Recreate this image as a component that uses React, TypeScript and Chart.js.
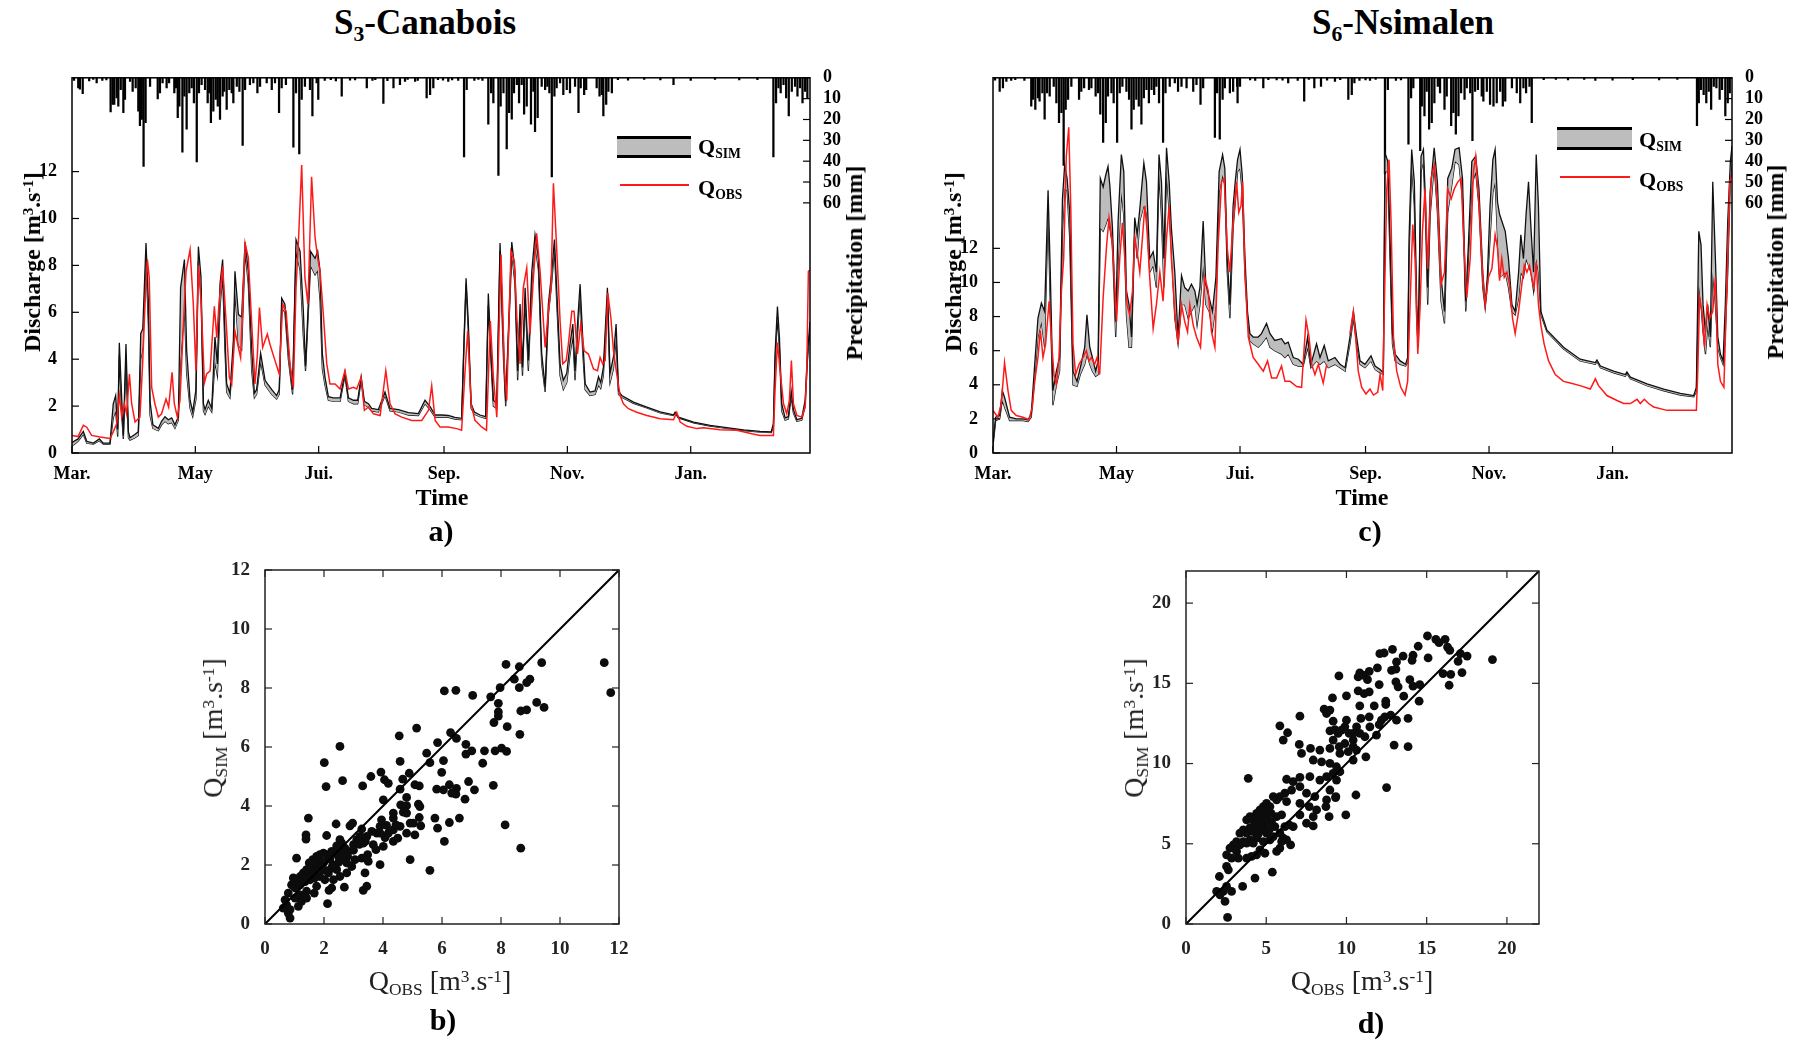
import React, { useEffect, useRef } from 'react';
import { Chart, registerables } from 'chart.js';

Chart.register(...registerables);

const FONT = "'Liberation Serif', 'Times New Roman', Times, serif";

// ---------- axis ticks / labels ----------
const monthDays = [0, 61, 122, 184, 245, 306];
const monthLabels = ['Mar.', 'May', 'Jui.', 'Sep.', 'Nov.', 'Jan.'];
const dischargeTicks = [0, 2, 4, 6, 8, 10, 12];
const rainTicks = [0, 10, 20, 30, 40, 50, 60];
const scatterTicksB = [0, 2, 4, 6, 8, 10, 12];
const scatterTicksD = [0, 5, 10, 15, 20];
const lineB = [0, 12];
const lineD = [0, 22];

// ---------- S3-Canabois (panel a) ----------
const simDaysA = [
  0, 3, 5.6, 7.3, 10.6, 13.5, 15.5, 18.8, 20.4, 21.6,
  22.6, 23.4, 24.6, 25.4, 26.7, 27.9, 28.7, 31.2, 32.8, 34,
  35, 36.6, 37.8, 38.6, 40, 42.7, 44.3, 46, 47.6, 49.3,
  50.9, 52.6, 53.7, 55.6, 56.7, 58.4, 59.7, 61.3, 62.5, 63.8,
  65, 65.8, 67.4, 69.1, 70.7, 71.9, 73.2, 74.5, 75.7, 76.5,
  78.1, 79.8, 80.6, 82.3, 83.9, 85.6, 87.2, 88.9, 90.2, 91.3,
  93.3, 95.5, 97.1, 98.8, 101.2, 102.5, 103.7, 105.3, 107, 109.1,
  110.8, 112.8, 114.4, 115.5, 118, 120.2, 121.5, 122.7, 123.8, 125.1,
  126.8, 129.3, 132.6, 135, 136.7, 139.2, 141.3, 143, 144.6, 146.6,
  148.2, 151.5, 154.8, 157.3, 161.4, 166.4, 171.3, 174.6, 177.1, 179.6,
  182.9, 186.1, 189.4, 192.7, 193.9, 194.9, 196, 197.4, 199, 201.8,
  204.6, 205.9, 207.3, 208.4, 210.1, 211.7, 213.4, 214.5, 217.5, 219.1,
  220.4, 221.6, 222.8, 224.1, 225.7, 227.4, 229, 230.7, 232.3, 234,
  235.6, 237.3, 238.6, 239.7, 241.4, 243, 244.7, 246.3, 247.7, 248.8,
  250, 251.3, 252.6, 253.8, 256.2, 258.7, 260.4, 261.5, 262.8, 264.8,
  266.1, 267.8, 269.1, 270.3, 271.9, 277.7, 284.3, 290.9, 297.5, 298.3,
  299.9, 307.4, 315.6, 323.8, 332.1, 340.3, 345.8, 346.9, 347.7, 348.9,
  349.9, 351, 352.7, 354.3, 355.7, 356.8, 358.5, 360.9, 362.6, 363.7,
  365,
];
const simHiA = [
  0.45, 0.6, 0.92, 0.5, 0.42, 0.6, 0.42, 0.42, 2.1, 2.45,
  1.0, 4.7, 2.3, 0.75, 4.65, 0.9, 0.65, 0.8, 0.9, 5.1,
  5.3, 8.95, 6.4, 2.2, 1.2, 1.05, 1.35, 1.55, 1.42, 1.5,
  1.2, 1.55, 7.05, 8.25, 4.4, 2.25, 1.75, 2.7, 8.8, 7.5,
  2.1, 1.85, 2.25, 1.9, 4.95, 3.8, 7.2, 8.25, 4.95, 2.95,
  2.55, 4.8, 7.75, 5.9, 5.8, 9.0, 7.75, 4.4, 2.55, 2.7,
  4.25, 3.1, 2.9, 2.7, 2.45, 2.7, 6.6, 6.35, 4.4, 2.7,
  9.1, 8.6, 6.1, 3.7, 8.6, 8.3, 8.6, 7.75, 4.25, 3.25,
  2.4, 2.35, 2.35, 3.45, 2.35, 2.25, 2.25, 3.25, 2.2, 2.1,
  1.9, 1.85, 2.6, 1.9, 1.85, 1.72, 1.68, 2.25, 1.98, 1.62,
  1.62, 1.6, 1.52, 1.48, 4.9, 7.45, 5.6, 2.1, 1.75, 1.62,
  1.55, 6.8, 4.2, 2.25, 2.1, 8.95, 4.65, 2.2, 9.0, 7.75,
  3.5, 6.35, 3.65, 7.05, 3.95, 7.75, 9.3, 8.3, 4.25, 2.8,
  6.35, 7.75, 9.1, 7.05, 3.8, 3.1, 3.4, 4.65, 5.5, 3.5,
  5.5, 7.2, 4.9, 2.95, 2.6, 2.65, 3.25, 3.0, 3.65, 7.05,
  3.4, 4.1, 5.5, 2.65, 2.45, 2.17, 1.96, 1.75, 1.63, 1.74,
  1.53, 1.32, 1.18, 1.08, 0.99, 0.92, 0.9, 1.25, 4.2, 6.25,
  4.9, 2.1, 1.5, 1.55, 2.65, 1.85, 1.42, 1.48, 2.25, 4.2,
  5.6,
];
const simLoA = [
  0.3, 0.5, 0.8, 0.42, 0.38, 0.52, 0.38, 0.38, 1.5, 1.8,
  0.7, 4.2, 1.6, 0.6, 4.0, 0.65, 0.55, 0.65, 0.75, 4.0,
  4.5, 8.3, 5.4, 1.6, 1.05, 0.95, 1.2, 1.35, 1.25, 1.3,
  1.05, 1.4, 4.0, 6.2, 3.4, 1.9, 1.55, 2.3, 8.2, 6.8,
  1.8, 1.65, 2.0, 1.75, 3.9, 3.3, 6.2, 7.6, 4.3, 2.6,
  2.35, 4.2, 7.0, 4.6, 4.4, 8.6, 7.2, 3.5, 2.35, 2.5,
  3.9, 2.9, 2.7, 2.5, 2.3, 2.5, 6.2, 6.0, 4.0, 2.5,
  8.6, 7.8, 5.0, 3.5, 8.0, 7.6, 7.8, 6.5, 3.6, 2.9,
  2.25, 2.2, 2.2, 3.3, 2.2, 2.1, 2.1, 3.1, 2.05, 1.95,
  1.8, 1.75, 2.45, 1.8, 1.75, 1.62, 1.6, 2.1, 1.85, 1.52,
  1.52, 1.52, 1.45, 1.42, 4.6, 7.2, 5.2, 1.9, 1.65, 1.55,
  1.48, 6.3, 3.8, 2.0, 1.9, 8.6, 4.0, 2.0, 8.5, 7.2,
  3.1, 5.8, 3.3, 6.6, 3.5, 7.2, 8.9, 7.8, 3.8, 2.6,
  5.9, 7.3, 8.7, 6.5, 3.3, 2.7, 3.0, 4.2, 5.0, 3.1,
  5.0, 6.8, 4.3, 2.7, 2.45, 2.5, 2.9, 2.75, 3.3, 6.6,
  3.0, 3.6, 4.9, 2.5, 2.38, 2.12, 1.92, 1.71, 1.6, 1.7,
  1.5, 1.29, 1.15, 1.05, 0.96, 0.89, 0.87, 1.1, 3.8, 5.8,
  4.4, 1.8, 1.4, 1.45, 2.4, 1.7, 1.35, 1.4, 2.0, 3.9,
  5.3,
];
const obsDaysA = [
  0, 3, 5.6, 7.3, 9.7, 13.9, 18.8, 20.4, 22.1, 23.4,
  24.6, 25.9, 27, 28.4, 29.5, 31.2, 33.6, 35, 36.1, 37.3,
  38.2, 39.4, 41, 42.7, 44.3, 46.5, 47.8, 49.5, 50.6, 52.1,
  53.4, 55.1, 56.4, 58.4, 60, 61.3, 62.5, 63.8, 65.5, 66.6,
  68.3, 70.4, 71.6, 72.7, 74.5, 76.2, 77.8, 79, 80.6, 82.3,
  83.4, 85.6, 87.2, 88.9, 90.5, 91.7, 92.7, 94.3, 96.6, 97.9,
  100.4, 102.5, 104.2, 105.9, 107.8, 109.5, 110.8, 112.1, 113.6, 115.2,
  116.7, 118.5, 120.2, 121.5, 122.7, 124.3, 126, 127.6, 130.1, 132.6,
  135, 136.7, 139.2, 140.8, 143, 144.6, 146.6, 149.1, 152.4, 155.2,
  157.3, 159.8, 163.1, 168, 173, 176.3, 177.9, 179.6, 182, 186.1,
  190.3, 192.7, 194.4, 195.7, 197.4, 199.3, 202.6, 205, 206.9, 208.4,
  210.1, 212.2, 213.9, 215, 217.1, 218.8, 220.1, 221.6, 223.2, 224.9,
  226.5, 228.2, 229.8, 231.5, 234, 235.6, 236.9, 238.1, 239.7, 241.4,
  242.7, 244.4, 245.5, 247.2, 248.3, 250, 251.6, 253.3, 255.4, 257.9,
  259.9, 261.2, 262.5, 263.7, 265, 266.5, 267.8, 269.4, 271.1, 272.7,
  275.2, 279.3, 284.3, 290.9, 297.5, 299.1, 300.8, 304.1, 309, 312.3,
  320.5, 328.8, 336.2, 340.3, 346.9, 347.7, 348.9, 350.2, 351.9, 353.5,
  354.8, 355.8, 356.8, 358.5, 360.9, 362.6, 363.4, 364.2, 365,
];
const obsA = [
  0.75, 0.7, 1.18, 1.1, 0.75, 0.68, 0.62, 0.9, 1.25, 2.45,
  1.53, 2.1, 1.67, 3.37, 2.1, 1.32, 1.53, 3.94, 6.34, 8.25,
  7.47, 2.8, 2.1, 1.53, 1.67, 2.3, 1.96, 3.44, 2.1, 1.53,
  2.24, 5.49, 7.75, 8.67, 6.34, 3.51, 8.0, 6.5, 3.0, 3.37,
  3.5, 6.26, 4.92, 6.34, 7.96, 5.63, 3.23, 2.94, 5.2, 4.5,
  4.07, 8.95, 8.32, 5.49, 2.94, 4.22, 6.2, 4.5, 5.07, 4.64,
  3.94, 3.37, 6.34, 6.05, 3.79, 2.8, 7.05, 9.23, 12.28, 7.47,
  6.34, 11.78, 9.2, 8.32, 7.75, 5.91, 3.8, 2.94, 2.94, 2.73,
  3.51, 2.73, 2.8, 2.73, 3.23, 1.82, 1.96, 1.67, 1.6, 3.51,
  2.1, 1.67, 1.53, 1.39, 1.39, 1.82, 2.87, 1.39, 1.11, 1.11,
  1.04, 0.97, 3.51, 5.2, 2.1, 1.39, 1.11, 0.97, 5.63, 3.23,
  1.53, 8.46, 3.51, 2.24, 8.6, 8.18, 5.63, 3.8, 7.05, 7.89,
  5.06, 7.47, 9.37, 7.75, 4.5, 6.05, 7.05, 11.5, 8.74, 5.63,
  3.8, 3.94, 4.64, 6.05, 6.05, 4.22, 5.49, 4.36, 4.22, 3.58,
  3.51, 4.07, 3.8, 3.94, 6.83, 5.77, 4.36, 3.37, 2.45, 2.1,
  1.89, 1.74, 1.6, 1.46, 1.42, 1.74, 1.32, 1.14, 1.04, 1.08,
  0.99, 0.97, 0.82, 0.75, 0.75, 2.66, 4.71, 3.51, 2.1, 1.67,
  2.24, 3.94, 2.1, 1.6, 1.53, 1.96, 3.51, 7.75, 7.8,
];
const rainDaysA = [
  3.1, 3.9, 5.3, 12.2, 19.1, 20.1, 20.9, 22.1, 22.9, 24.1,
  25.4, 26.2, 28.7, 30, 31.5, 32.8, 33.6, 34.5, 35.4, 36.4,
  38.6, 42.4, 43.5, 44.8, 46.8, 48, 50.6, 51.4, 52.3, 53.1,
  54.6, 55.6, 56.7, 58, 59.2, 60.3, 61.7, 62.8, 64.1, 65.8,
  67.1, 67.9, 68.7, 69.9, 71.1, 72.1, 73.2, 74.5, 75.3, 76.5,
  77.8, 79, 79.8, 81.5, 82.8, 84.4, 85.6, 88, 89.7, 91.7,
  93, 96.3, 98.8, 100.4, 102.4, 103.7, 105.8, 109.5, 110.8, 112.4,
  113.6, 115.2, 117.7, 118.9, 121, 121.8, 133.4, 140, 145.8, 148.6,
  154, 159, 162.2, 164.7, 169.7, 175.4, 177.1, 178.7, 186.1, 193.9,
  195.2, 199, 205.9, 207.3, 208.4, 210.9, 212, 213.4, 215, 216.2,
  217.5, 218.6, 220, 221.1, 222.4, 223.6, 224.9, 227, 228.2, 229,
  230.3, 232.3, 234, 235.1, 236.1, 237.3, 238.6, 239.7, 241.4, 243,
  244.7, 246.3, 248.8, 250.5, 251.6, 253.3, 254.3, 259.5, 260.9, 262,
  262.8, 264.2, 265.3, 267, 297.5, 346.9, 348.2, 349.4, 350.5, 351.9,
  353.2, 354.5, 356, 357.6, 358.8, 360.1, 361.3, 362.6, 363.7,
  1, 8.5, 10.5, 15, 17, 125, 128, 130.5, 137.5, 150,
  156, 166, 171, 181, 183.5, 188, 191, 201, 203, 270,
  275, 283, 291, 306, 318, 330, 339,
];
const rainA = [
  4.9, 5.4, 7.6, 2.5, 16.4, 12.8, 12.8, 9.6, 13.6, 5.7,
  16.7, 10.4, 1.7, 6.5, 4.9, 16, 23, 20, 42.5, 21.5,
  4.1, 10.1, 7.3, 2.5, 4.9, 2.5, 7.3, 4.9, 19.1, 13.6,
  35.7, 8.8, 24.6, 7.3, 4.9, 12, 40.4, 7.3, 3.3, 5.7,
  12, 7.3, 21.5, 16, 10.4, 13.6, 20, 8.8, 6.5, 15.2,
  5.7, 7.3, 12, 4.1, 6.5, 32.5, 5.7, 3.3, 2.5, 7.3,
  4.1, 2.5, 5.7, 2.5, 16.7, 4.9, 3.3, 33.3, 7.3, 36.5,
  10.4, 4.1, 5.7, 18.3, 2.5, 10.4, 8.8, 1, 4.9, 1.3,
  12.3, 4.9, 3.3, 1.7, 1.7, 9.6, 8.1, 4.9, 1.7, 38,
  5.7, 1.3, 22.3, 7.3, 12, 46.8, 13.6, 7.3, 34.1, 16.7,
  19.9, 7.3, 3.3, 12, 3.3, 17.5, 13.6, 22.3, 6.5, 25.9,
  19.1, 4.1, 5.7, 4.1, 7.3, 47.6, 8.8, 4.9, 2.5, 8.1,
  5.7, 7.3, 4.1, 16.7, 4.9, 8.1, 5.7, 4.9, 8.8, 8.1,
  18.3, 12.8, 6.5, 7.3, 3.3, 38, 12, 4.9, 7.3, 3.3,
  9.6, 18.3, 6.5, 4.1, 8.8, 4.9, 12, 6.5, 9.6,
  1.2, 1.5, 0.8, 1.2, 1.0, 1.3, 0.9, 1.5, 1.1, 0.9,
  1.4, 0.8, 1.2, 0.9, 1.1, 1.0, 1.3, 0.8, 1.2, 0.9,
  1.1, 0.8, 1.0, 1.2, 0.8, 1.0, 0.9,
];

// ---------- S6-Nsimalen (panel c) ----------
const simDaysC = [
  0, 1.3, 3.3, 4.6, 5.7, 8.2, 11.5, 14.8, 17.3, 18.9,
  20.6, 22.2, 23.9, 25.5, 27.2, 28.3, 29.6, 31.3, 32.9, 34.3,
  35.4, 36.6, 37.9, 39.5, 41.5, 43.1, 45.3, 46.4, 47.8, 49.1,
  50.7, 51.9, 53, 54.4, 55.7, 56.8, 57.7, 59, 60.6, 61.8,
  63.4, 64.6, 65.9, 67.2, 68.4, 70, 71.2, 72.5, 74.5, 75.8,
  77.4, 79.1, 80.7, 82, 83.2, 84.4, 85.7, 87, 88.1, 89.8,
  91.4, 93.1, 94.7, 96.4, 98, 99.7, 100.8, 102.2, 103.8, 105.1,
  106.8, 108.4, 110.1, 111.7, 113.4, 114.5, 115.7, 117, 118.6, 119.8,
  120.8, 122, 123.1, 124.4, 125.7, 126.9, 128.5, 131, 132.6, 135.1,
  136.8, 139.2, 142.5, 144.2, 145.8, 148.3, 150.8, 153.2, 155.4, 157,
  159.8, 161.5, 163.6, 165.6, 168.9, 171.4, 173.9, 176.3, 178, 179.6,
  181.3, 183.7, 186.7, 188.7, 191.2, 192.8, 193.6, 195, 196.1, 197.3,
  198.6, 201.1, 203.8, 204.8, 205.5, 206.8, 208.1, 209.3, 210.1, 211.4,
  212.6, 213.7, 214.7, 215.9, 217.9, 219.5, 221.3, 223, 224.6, 226.6,
  228.2, 230.2, 231.9, 233.5, 234.8, 236.5, 238.4, 240, 241.9, 243.1,
  244.2, 245.5, 246.9, 248, 249.2, 250.2, 251.3, 253, 254.6, 256.3,
  257.9, 259.6, 260.7, 262, 263.3, 264.5, 265.7, 267, 268.3, 269.4,
  270.6, 273.6, 281.8, 290, 297.5, 298.3, 300, 306.5, 312.3, 313.1,
  314.8, 323, 331.3, 339.5, 346.1, 347.4, 348.6, 349.7, 350.7, 351.9,
  353, 354.3, 355.5, 356.8, 358, 359.3, 360.6, 361.7, 362.9, 364.2,
  365,
];
const simHiC = [
  0.6, 2.1, 2.2, 3.66, 3.27, 2.1, 2.0, 2.0, 1.95, 2.3,
  5.2, 7.9, 8.8, 8.3, 15.4, 10.6, 3.66, 4.8, 5.6, 14.9,
  16.9, 16.1, 14.1, 4.8, 4.2, 5.0, 6.2, 8.1, 6.2, 5.6,
  4.8, 5.4, 16.1, 15.6, 16.3, 16.8, 15.7, 13.2, 7.7, 13.6,
  17.5, 16.5, 9.5, 8.7, 6.8, 13.8, 12.8, 14.3, 17.0, 15.9,
  11.4, 11.8, 10.6, 17.5, 15.9, 11.4, 17.9, 15.9, 13.2, 10.6,
  6.8, 10.4, 9.7, 9.5, 9.9, 9.5, 8.7, 9.7, 13.6, 9.9,
  9.1, 8.3, 10.3, 16.5, 17.5, 16.7, 11.4, 8.7, 14.5, 16.1,
  17.2, 17.8, 16.3, 11.6, 8.3, 7.0, 6.8, 6.8, 7.0, 7.6,
  7.0, 6.6, 6.7, 6.4, 6.5, 5.6, 5.5, 5.2, 6.8, 5.2,
  6.4, 5.6, 6.3, 5.4, 5.6, 5.2, 5.0, 6.8, 8.3, 6.8,
  5.4, 5.2, 5.7, 5.1, 4.9, 4.7, 17.6, 17.1, 12.6, 7.0,
  5.8, 5.4, 5.2, 5.6, 12.6, 17.8, 15.9, 8.7, 6.8, 17.4,
  17.8, 14.5, 9.7, 15.3, 17.9, 15.9, 10.3, 8.3, 16.1, 16.7,
  17.8, 17.9, 16.1, 8.9, 12.2, 17.1, 17.4, 15.5, 10.6, 8.7,
  10.4, 14.5, 17.2, 17.8, 14.7, 14.0, 13.6, 13.0, 11.4, 8.7,
  8.3, 10.6, 12.8, 11.4, 14.0, 15.9, 13.2, 10.6, 17.5, 14.5,
  8.3, 7.2, 6.2, 5.5, 5.3, 5.45, 5.1, 4.8, 4.6, 4.75,
  4.45, 4.05, 3.75, 3.5, 3.37, 3.85, 13.0, 12.2, 8.7, 7.1,
  8.7, 6.8, 15.9, 11.4, 6.8, 5.8, 5.4, 8.7, 13.6, 17.1,
  18.0,
];
const simLoC = [
  0.4, 1.9, 2.0, 3.1, 2.7, 1.9, 1.9, 1.9, 1.85, 2.1,
  4.4, 6.8, 7.7, 6.2, 14.1, 8.7, 2.8, 4.0, 4.8, 13.0,
  15.5, 15.4, 12.6, 4.0, 3.9, 4.6, 5.2, 5.8, 5.2, 4.8,
  4.5, 4.6, 13.2, 13.0, 13.4, 13.8, 13.2, 12.2, 6.8, 11.2,
  15.3, 13.9, 8.1, 6.2, 6.2, 13.0, 11.4, 13.6, 14.5, 14.1,
  10.6, 11.0, 9.7, 16.5, 13.9, 9.7, 16.5, 14.1, 12.0, 7.9,
  6.4, 8.7, 8.7, 7.9, 8.3, 8.7, 7.5, 8.7, 11.0, 8.7,
  8.3, 7.2, 8.7, 15.3, 16.3, 15.7, 10.6, 7.9, 13.2, 14.9,
  16.5, 16.7, 15.3, 10.6, 7.9, 6.6, 6.4, 6.2, 6.4, 6.8,
  6.2, 6.0, 5.8, 5.6, 5.8, 5.2, 5.1, 5.1, 6.2, 5.0,
  5.4, 5.2, 5.4, 5.0, 5.2, 5.0, 4.8, 6.4, 7.9, 6.4,
  5.2, 5.0, 5.4, 4.9, 4.7, 4.6, 16.5, 16.5, 11.4, 6.4,
  5.4, 5.2, 5.1, 5.3, 11.4, 16.9, 14.5, 7.5, 6.2, 16.5,
  17.1, 13.4, 8.7, 13.9, 16.9, 14.1, 8.9, 7.6, 14.1, 15.7,
  17.1, 16.9, 14.9, 8.3, 11.4, 15.7, 16.5, 14.5, 9.7, 8.5,
  9.9, 12.6, 15.3, 15.9, 12.6, 10.3, 10.4, 10.6, 9.7, 8.3,
  8.1, 9.1, 10.6, 10.3, 11.4, 11.0, 10.6, 9.5, 11.4, 10.6,
  8.1, 7.1, 6.1, 5.4, 5.2, 5.35, 5.0, 4.7, 4.5, 4.65,
  4.35, 3.95, 3.65, 3.4, 3.3, 3.6, 9.9, 8.7, 7.1, 5.8,
  7.5, 6.2, 10.6, 8.7, 6.2, 5.6, 5.2, 7.1, 10.6, 16.1,
  17.0,
];
const obsDaysC = [
  0, 2.4, 4.1, 5.7, 7.4, 9, 11.5, 14.8, 17.8, 19.4,
  20.6, 22.2, 23.4, 24.7, 26, 27.7, 28.8, 30.1, 31.3, 32.6,
  33.8, 34.9, 36.2, 37.4, 38.4, 39.5, 40.8, 42.5, 44.5, 46.1,
  47.4, 48.6, 50.2, 51.4, 52.7, 54.4, 56, 57.3, 58.5, 59.6,
  61, 62.6, 63.9, 65.1, 66.2, 67.5, 68.9, 70, 71.2, 72.5,
  73.8, 75, 76.1, 77.4, 79.1, 80.7, 82.4, 84, 85.7, 87,
  88.1, 89.8, 91.4, 93.1, 94.7, 96.1, 97.2, 98.9, 100.5, 102.5,
  104.6, 106.3, 107.9, 109.6, 111.2, 112.9, 114.2, 115.7, 117, 118.6,
  120.3, 121.4, 122.5, 123.3, 124.4, 126.1, 128.5, 131, 133.5, 135.6,
  137.6, 140.1, 142.5, 144.2, 146.7, 150, 152.4, 154.6, 156.1, 157.4,
  159, 160.7, 163.1, 164.8, 170, 176.3, 178, 179.1, 180.4, 182.1,
  184.2, 186.2, 187.9, 190, 191.2, 192.5, 193.3, 194.5, 195.6, 196.6,
  197.8, 199.4, 201.4, 203.5, 204.8, 206, 207.3, 208.5, 209.8, 211,
  212.1, 213.4, 214.7, 216.4, 218, 219.7, 221.3, 223, 224.6, 226.3,
  227.9, 229.6, 231.2, 232.9, 234, 235.7, 237.3, 238.4, 240.1, 241.9,
  243.1, 244.7, 246.4, 248, 249.2, 250.2, 251.3, 252.5, 253.8, 255.1,
  256.6, 257.9, 259.6, 261.2, 262.4, 263.7, 265, 266.1, 267.3, 268.3,
  269.4, 270.6, 272.2, 274.4, 277.7, 281.8, 285.1, 290, 295, 297.5,
  299.1, 303.2, 308.2, 311.5, 314.8, 318.1, 319.7, 321.7, 323.8, 326.3,
  332.9, 339.5, 347.4, 348.1, 349, 350.2, 351.4, 352.7, 354, 355.5,
  356.8, 358, 359.3, 361, 362.2, 363.9, 365,
];
const obsC = [
  2.5, 2.1, 2.9, 5.3, 3.66, 2.5, 2.2, 2.1, 1.95, 2.7,
  4.2, 5.6, 7.2, 5.6, 6.4, 8.9, 6.8, 4.6, 4.0, 5.6,
  9.5, 11.4, 17.4, 19.1, 14.5, 6.4, 4.6, 5.2, 5.6, 6.0,
  5.4, 5.6, 5.2, 5.6, 4.6, 9.1, 12.0, 13.8, 12.8, 11.0,
  7.7, 11.4, 13.5, 11.4, 8.7, 8.1, 9.5, 12.6, 11.8, 10.6,
  12.6, 14.5, 13.0, 10.3, 7.3, 8.7, 10.6, 8.9, 12.6, 14.5,
  11.4, 8.3, 6.4, 8.7, 7.7, 7.1, 8.7, 7.5, 6.8, 6.2,
  10.3, 9.5, 7.1, 6.2, 12.2, 15.9, 16.1, 12.0, 10.6, 13.6,
  15.9, 14.1, 14.5, 15.9, 10.6, 6.8, 5.6, 5.2, 4.8, 5.4,
  4.4, 4.4, 5.1, 4.2, 4.2, 3.9, 3.85, 7.8, 6.8, 5.2,
  4.6, 5.2, 4.1, 5.2, null, 7.0, 8.3, 6.8, 4.8, 3.85,
  3.46, 3.75, 3.4, 3.56, 4.6, 3.66, 8.7, 15.5, 17.2, 13.6,
  6.8, 4.8, 3.85, 3.4, 4.2, 8.7, 13.4, 11.4, 5.8, 8.7,
  13.0, 15.5, 10.8, 16.1, 16.9, 14.5, 9.9, 10.6, 15.5, 14.9,
  15.5, 15.9, 16.1, 11.4, 9.1, 11.4, 16.5, 17.4, 14.5, 10.3,
  8.7, 10.3, 10.8, 12.8, 12.0, 10.1, 11.4, 10.3, 10.6, 9.9,
  7.9, 7.0, 8.3, 9.9, 11.0, 10.6, 11.0, 10.3, 9.7, 11.2,
  8.7, 7.5, 6.4, 5.4, 4.6, 4.2, 4.1, 3.95, 3.75, 4.35,
  3.95, 3.37, 3.08, 2.9, 2.9, 3.15, 2.9, 3.15, 2.9, 2.7,
  2.5, 2.5, 2.5, 4.8, 9.1, 8.3, 6.2, 8.7, 7.9, 8.3,
  10.3, 5.2, 4.2, 3.85, 8.7, 15.9, 16.4,
];
const rainDaysC = [
  3.3, 4.9, 6.6, 18.9, 19.7, 20.9, 22.2, 23, 24.4, 25.5,
  26.7, 28, 30, 31.3, 32.6, 33.8, 34.9, 35.9, 37.1, 38.7,
  42.5, 43.6, 45, 47.4, 48.6, 50.7, 51.9, 53, 54.4, 55.7,
  56.8, 58.5, 59.6, 61.3, 62.6, 63.9, 65.9, 67.2, 68.4, 69.5,
  70.8, 72, 73.3, 74.5, 75.8, 77, 78.3, 79.6, 80.7, 82,
  84, 85.2, 87.3, 89.8, 91.4, 93.1, 95.6, 98.9, 100.5, 102.5,
  103.8, 109.6, 110.7, 112, 113.4, 114.5, 117, 118.6, 120.6, 120.8,
  122, 133.5, 140.1, 145.8, 153.7, 158.7, 162, 168.9, 175.5, 177.2,
  178.5, 186.2, 193.6, 195, 205.2, 206.5, 207.6, 211, 211.8, 213.1,
  214.2, 215.4, 216.7, 218, 219.7, 220.8, 223, 224.1, 226.3, 227.4,
  228.6, 229.9, 231.2, 232.9, 234, 235.7, 236.8, 238.1, 239.5, 241.4,
  242.2, 243.9, 245.5, 247.2, 248.8, 250.5, 251.8, 253, 256.3, 258.7,
  260.4, 262, 263.3, 265, 266.1, 297.5, 347.7, 348.6, 349.7, 351,
  352.3, 353.5, 354.7, 356, 357.3, 358.9, 360.1, 361.7, 362.9, 363.9,
  1, 9, 11, 15.5, 127, 129.5, 136, 143, 150.5, 156,
  165, 171.5, 181, 184, 189, 199, 201.5, 272, 278, 284,
  292, 306, 316, 329, 338,
];
const rainC = [
  6.5, 4.9, 1.7, 13.6, 10.4, 15.2, 9.6, 11.2, 7.3, 19.9,
  7.3, 8.8, 4.1, 12, 21.5, 16.7, 42, 15.2, 10.4, 4.1,
  10.4, 6.5, 4.9, 5.7, 4.9, 8.8, 7.3, 17.5, 31, 21.5,
  8.8, 7.3, 12, 31, 7.3, 4.1, 6.5, 10.4, 24.6, 15.2,
  10.4, 13.6, 22.3, 9.6, 5.7, 12, 5.7, 8.1, 4.1, 12,
  31, 7.3, 4.1, 2.5, 6.5, 4.1, 4.9, 6.5, 3.3, 12.8,
  4.9, 28.6, 7.3, 29.4, 10.4, 4.9, 7.3, 6.5, 4.1, 12,
  4.1, 4.9, 1, 2.5, 11.2, 4.9, 4.1, 1.7, 10.4, 8.1,
  2.5, 1.3, 46, 5.7, 31.8, 9.6, 4.9, 34.9, 13.6, 18.3,
  6.5, 24.6, 21.5, 12, 4.1, 7.3, 15.2, 8.8, 23, 16.7,
  27, 18.3, 7.3, 10.4, 4.9, 7.3, 30.2, 6.5, 5.7, 8.8,
  11.2, 6.5, 12.8, 13.6, 12, 6.5, 13.6, 11.2, 4.9, 7.3,
  12, 4.9, 7.3, 4.1, 21.5, 1.3, 23, 12, 5.7, 8.1,
  12, 6.5, 15.2, 4.1, 4.9, 10.4, 5.7, 18.3, 12, 7.3,
  1.1, 1.3, 0.9, 1.2, 1.0, 1.3, 0.9, 1.1, 1.2, 0.8,
  1.1, 0.9, 1.2, 1.0, 0.8, 1.2, 1.0, 0.9, 0.8, 1.0,
  0.8, 1.1, 0.9, 1.0, 0.8,
];

// ---------- Scatter b (S3) ----------
const obsB = [
  11.5, 11.72, 9.38, 8.17, 8.62, 8.45, 8.98, 8.87, 7.97, 8.62,
  6.08, 6.47, 7.04, 7.65, 7.91, 7.91, 7.91, 9.21, 9.46, 8.67,
  8.87, 7.76, 8.21, 8.64, 6.29, 6.49, 6.81, 7.01, 7.44, 7.8,
  8.02, 8.19, 6.81, 5.85, 5.14, 4.55, 2.54, 2.01, 2.07, 2.63,
  3.31, 3.59, 3.93, 4.05, 4.18, 4.58, 4.67, 4.89, 5.08, 5.23,
  5.48, 5.59, 6.05, 5.99, 6.05, 5.82, 6.25, 6.49, 6.33, 6.47,
  6.9, 7.1, 7.38, 7.74, 6.78, 4.58, 4.8, 4.6, 4.8, 4.69,
  4.01, 5.2, 5.23, 5.28, 4.92, 4.58, 4.5, 4.12, 4.35, 3.9,
  3.62, 3.28, 2.88, 2.97, 2.41, 1.47, 1.39, 1.39, 2.09, 2.43,
  2.6, 2.82, 3.11, 3.45, 3.79, 4.07, 4.35, 4.8, 5.08, 3.67,
  3.33, 4.01, 3.76, 3.48, 3.28, 3.5, 3.9, 4.92, 5.59, 6.08,
  6.59, 6.25, 5.76, 5.85, 8.14, 8.67, 3.39, 3.33, 3.45, 2.69,
  2.12, 2.17, 2.26, 1.67, 1.07, 1.5, 1.62, 1.75, 1.86, 1.98,
  2.09, 2.26, 2.37, 2.49, 2.66, 2.77, 2.94, 3.05, 2.43, 2.26,
  2.15, 1.98, 1.86, 1.64, 1.53, 1.41, 1.3, 1.19, 1.07, 0.96,
  0.9, 1.02, 1.19, 1.36, 1.53, 1.69, 1.86, 2.03, 2.32, 2.54,
  2.77, 1.75, 1.41, 1.19, 1.02, 0.79, 0.68, 0.73, 0.62, 0.85,
  0.85, 1.13, 1.24, 1.41, 0.79, 4.35, 4.44, 3.95, 3.9, 4.18,
  5.03, 4.8, 5.25, 4.35, 3.22, 2.54, 2.71, 3.0,
  1.6, 1.8, 2.0, 2.2, 1.7, 1.9, 2.1, 2.3, 1.4, 2.5,
  2.6, 2.8, 3.0, 3.2, 3.4,
];
const simB = [
  8.86, 7.84, 8.86, 8.8, 8.72, 8.3, 8.3, 8.18, 8.01, 8.01,
  7.9, 7.92, 7.75, 7.7, 7.48, 7.19, 7.05, 7.51, 7.34, 7.22,
  7.26, 6.83, 6.69, 6.43, 6.49, 6.29, 6.09, 5.87, 5.87, 5.87,
  5.96, 5.85, 5.76, 6.15, 6.64, 6.38, 6.02, 5.47, 4.66, 4.86,
  4.68, 5.0, 5.15, 4.89, 4.77, 5.51, 4.91, 5.11, 4.72, 4.68,
  5.79, 5.47, 5.54, 5.14, 4.55, 4.57, 4.72, 4.6, 4.44, 4.4,
  4.83, 4.55, 5.45, 4.7, 4.23, 4.57, 4.29, 4.04, 4.01, 3.79,
  4.21, 4.06, 3.61, 3.33, 3.42, 3.31, 2.91, 3.34, 3.19, 3.31,
  3.14, 3.22, 3.33, 3.42, 3.39, 3.59, 3.02, 2.88, 3.0, 2.65,
  2.74, 2.46, 2.86, 2.97, 3.08, 2.93, 2.8, 3.08, 3.02, 2.69,
  2.74, 2.63, 2.52, 2.35, 2.23, 2.12, 2.01, 2.18, 1.82, 2.8,
  3.59, 3.44, 3.59, 3.25, 3.36, 2.57, 1.73, 1.14, 1.28, 1.25,
  0.69, 1.14, 1.22, 1.05, 2.23, 2.07, 2.18, 2.29, 2.35, 2.4,
  2.35, 2.46, 2.4, 2.29, 2.18, 2.07, 1.95, 2.18, 1.84, 1.9,
  1.73, 1.84, 2.01, 1.9, 1.73, 1.84, 1.73, 1.61, 1.5, 1.56,
  1.33, 1.22, 1.33, 1.44, 1.5, 1.56, 1.61, 1.5, 1.5, 1.61,
  1.73, 1.28, 1.11, 0.99, 0.88, 1.05, 0.82, 0.65, 0.54, 0.49,
  0.2, 0.6, 0.77, 0.88, 0.37, 3.59, 3.36, 3.53, 3.08, 3.08,
  3.42, 3.76, 3.98, 3.76, 2.97, 2.86, 2.57, 2.69,
  2.1, 2.2, 2.1, 2.2, 1.7, 1.9, 1.8, 2.0, 1.6, 2.1,
  2.4, 2.3, 2.5, 2.7, 2.8,
];

// ---------- Scatter d (S6) ----------
const obsD = [
  19.1, 15.05, 15.57, 15.77, 16.15, 16.3, 16.44, 16.96, 17.1, 17.52,
  17.2, 16.5, 16.02, 16.4, 15.09, 14.47, 14.15, 14.09, 13.53, 12.87,
  12.35, 12.08, 13.12, 13.08, 12.81, 11.93, 11.42, 10.83, 10.73, 9.53,
  11.1, 11.31, 12.04, 13.08, 13.22, 13.95, 14.15, 14.57, 13.57, 14.53,
  10.73, 11.1, 11.42, 10.0, 9.13, 10.83, 11.73, 12.45, 12.45, 12.39,
  12.76, 13.12, 13.84, 12.18, 12.04, 11.42, 11.46, 10.9, 10.63, 10.42,
  10.0, 9.9, 9.69, 9.28, 8.97, 9.17, 8.76, 8.61, 8.97, 9.48,
  9.17, 10.17, 10.42, 10.83, 11.15, 11.87, 10.42, 9.9, 9.55, 10.11,
  9.59, 10.63, 10.42, 11.21, 12.97, 13.84, 12.5, 7.1, 5.85, 6.33,
  6.06, 7.06, 7.2, 7.76, 8.34, 8.97, 7.93, 8.45, 8.97, 9.38,
  9.59, 9.17, 8.76, 8.34, 7.72, 7.1, 6.68, 6.27, 3.88, 9.38,
  8.97, 8.76, 9.32, 8.03, 7.51, 7.1, 6.58, 6.16, 5.85, 5.65,
  6.27, 7.1, 7.68, 8.14, 8.72, 9.96, 10.59, 9.34, 7.93, 7.51,
  7.93, 7.1, 8.92, 5.02, 5.44, 5.23, 4.82, 4.61, 4.4, 3.99,
  3.78, 4.19, 4.61, 5.02, 5.33, 5.65, 5.96, 6.16, 6.43, 6.68,
  5.54, 4.82, 4.4, 3.99, 3.57, 3.36, 3.78, 4.19, 4.61, 5.02,
  5.44, 5.85, 6.06, 4.4, 3.99, 3.57, 3.15, 2.95, 3.36, 3.78,
  4.19, 4.82, 5.23, 4.61, 4.4, 4.92, 4.09, 3.78, 3.15, 2.74,
  2.53, 2.84, 3.26, 2.53, 2.64, 2.08, 4.3, 3.53, 5.38, 2.53,
  2.32, 1.91, 2.84, 2.43, 2.59, 2.12, 6.52, 6.27, 5.85, 5.65,
  5.96, 4.5, 4.7, 5.1, 4.3, 4.9, 5.3, 4.0, 4.5, 5.0,
  5.2,
];
const simD = [
  16.48, 17.95, 17.74, 17.53, 17.74, 17.26, 17.06, 16.37, 16.85, 16.7,
  15.67, 15.56, 15.61, 14.88, 16.58, 17.31, 16.75, 16.43, 16.7, 17.12,
  16.89, 16.85, 16.33, 15.88, 15.81, 15.96, 15.75, 15.65, 15.4, 15.46,
  15.5, 15.23, 14.92, 15.09, 14.78, 15.23, 14.82, 14.92, 14.2, 13.89,
  14.53, 14.36, 14.47, 14.22, 14.09, 13.6, 13.6, 13.89, 13.68, 12.91,
  13.02, 12.7, 12.81, 12.7, 12.43, 12.91, 12.29, 12.81, 12.29, 11.88,
  12.7, 12.29, 12.08, 12.12, 12.04, 12.64, 13.12, 13.39, 13.33, 11.88,
  11.46, 11.88, 11.46, 11.88, 11.67, 11.77, 11.05, 11.25, 11.05, 10.74,
  10.63, 10.84, 10.22, 10.42, 11.15, 11.05, 8.5, 12.95, 12.35, 11.92,
  11.46, 11.19, 10.63, 10.94, 10.84, 10.94, 10.22, 10.11, 10.01, 9.8,
  9.49, 9.39, 9.18, 8.97, 9.18, 9.14, 8.87, 9.02, 9.08, 8.97,
  8.35, 7.73, 7.88, 7.94, 8.15, 8.56, 8.35, 8.15, 7.94, 7.73,
  7.63, 7.52, 7.32, 7.11, 7.32, 6.8, 8.04, 7.94, 6.69, 6.28,
  6.11, 6.8, 6.69, 7.52, 7.94, 7.32, 7.32, 7.11, 6.9, 6.69,
  6.49, 6.49, 6.59, 6.69, 6.38, 6.69, 6.8, 6.07, 6.18, 6.07,
  6.07, 6.18, 6.07, 5.97, 5.87, 5.66, 5.66, 5.76, 5.87, 5.66,
  5.45, 5.66, 5.35, 5.35, 5.24, 5.14, 5.14, 4.93, 4.93, 5.04,
  5.04, 5.14, 5.24, 4.62, 4.31, 4.41, 4.21, 4.1, 4.52, 4.73,
  4.31, 4.1, 4.1, 3.59, 3.38, 2.96, 2.86, 2.34, 3.23, 2.34,
  2.03, 2.03, 2.03, 1.41, 0.41, 1.82, 4.93, 5.24, 4.73, 4.52,
  5.14, 6.3, 6.8, 7.0, 6.2, 6.0, 6.9, 6.0, 5.6, 6.4,
  5.9,
];

const pts = (xs: number[], ys: (number | null)[]) => xs.map((x, i) => ({ x, y: ys[i] }));

const framePlugin = {
  id: 'frame',
  afterDraw(chart: any, _args: any, opts: any) {
    const { ctx, chartArea: a } = chart;
    const L = opts.len ?? 7;
    const seg = (x1: number, y1: number, x2: number, y2: number) => {
      ctx.beginPath();
      ctx.moveTo(x1, y1);
      ctx.lineTo(x2, y2);
      ctx.stroke();
    };
    ctx.save();
    ctx.strokeStyle = opts.color || '#000';
    ctx.lineWidth = opts.width || 1.5;
    ctx.strokeRect(a.left, a.top, a.right - a.left, a.bottom - a.top);
    ctx.lineWidth = 1.2;
    const xs = chart.scales.x;
    xs.ticks.forEach((t: any) => {
      const p = xs.getPixelForValue(t.value);
      seg(p, a.bottom, p, a.bottom - L);
      if (opts.top) seg(p, a.top, p, a.top + L);
    });
    const ys = chart.scales.y;
    ys.ticks.forEach((t: any) => {
      const p = ys.getPixelForValue(t.value);
      seg(a.left, p, a.left + L, p);
      if (opts.right) seg(a.right, p, a.right - L, p);
    });
    const yp = chart.scales.yP;
    if (yp) {
      yp.ticks.forEach((t: any) => {
        const p = yp.getPixelForValue(t.value);
        seg(a.right, p, a.right - L, p);
      });
    }
    ctx.restore();
  },
};

type Area = { left: number; top: number; right: number; bottom: number };

function SeriesChart(props: any) {
  const { left, top, width, height, area, simDays, simHi, simLo, obsDays, obs, rainDays, rain, qMax } = props;
  const ref = useRef<HTMLCanvasElement | null>(null);
  useEffect(() => {
    const tickFont = { family: FONT, size: 18, weight: 'bold' as const };
    const a: Area = area;
    const chart = new Chart(ref.current as HTMLCanvasElement, {
      type: 'line',
      data: {
        datasets: [
          {
            type: 'line', data: pts(obsDays, obs), borderColor: '#ff1a1a', borderWidth: 1.5,
            pointRadius: 0, fill: false, spanGaps: false, order: 0, yAxisID: 'y', tension: 0,
          },
          {
            type: 'line', data: pts(simDays, simHi), borderColor: '#111', borderWidth: 1.3,
            pointRadius: 0, fill: '+1', backgroundColor: '#bdbdbd', order: 1, yAxisID: 'y',
          },
          {
            type: 'line', data: pts(simDays, simLo), borderColor: '#111', borderWidth: 1.3,
            pointRadius: 0, fill: false, order: 2, yAxisID: 'y',
          },
          {
            type: 'bar', data: pts(rainDays, rain), backgroundColor: '#000', barThickness: 1.6,
            order: 3, yAxisID: 'yP',
          },
        ] as any,
      },
      options: {
        responsive: false,
        animation: false,
        devicePixelRatio: 1,
        layout: { padding: { top: a.top, left: 0, right: 0, bottom: 0 } },
        plugins: { legend: { display: false }, tooltip: { enabled: false }, frame: { len: 7 } } as any,
        scales: {
          x: {
            type: 'linear', min: 0, max: 365, offset: false,
            grid: { display: false }, border: { display: false },
            afterBuildTicks: (s: any) => { s.ticks = monthDays.map((v) => ({ value: v })); },
            ticks: {
              font: tickFont, color: '#000', padding: 3, maxRotation: 0, autoSkip: false,
              callback: (v: any) => { const i = monthDays.indexOf(Number(v)); return i >= 0 ? monthLabels[i] : ''; },
            },
            afterFit: (s: any) => { s.height = height - a.bottom; },
          },
          y: {
            type: 'linear', position: 'left', min: 0, max: qMax,
            grid: { display: false }, border: { display: false },
            afterBuildTicks: (s: any) => { s.ticks = dischargeTicks.map((v) => ({ value: v })); },
            ticks: { font: tickFont, color: '#000', padding: 7 },
            afterFit: (s: any) => { s.width = a.left; },
          },
          yP: {
            type: 'linear', position: 'right', min: 0, max: 180, reverse: true,
            grid: { display: false }, border: { display: false },
            afterBuildTicks: (s: any) => { s.ticks = rainTicks.map((v) => ({ value: v })); },
            ticks: { font: tickFont, color: '#000', padding: 5 },
            afterFit: (s: any) => { s.width = width - a.right; },
          },
        } as any,
      },
      plugins: [framePlugin as any],
    });
    return () => chart.destroy();
  }, []);
  return <canvas ref={ref} width={width} height={height} style={{ position: 'absolute', left, top }} />;
}

function ScatterChart(props: any) {
  const { left, top, width, height, area, obs, sim, max, ticks, line } = props;
  const ref = useRef<HTMLCanvasElement | null>(null);
  useEffect(() => {
    const tickFont = { family: FONT, size: 19, weight: 'bold' as const };
    const a: Area = area;
    const chart = new Chart(ref.current as HTMLCanvasElement, {
      type: 'scatter',
      data: {
        datasets: [
          {
            type: 'line', data: pts(line, line), borderColor: '#000', borderWidth: 2,
            pointRadius: 0, fill: false, order: 0,
          },
          {
            type: 'scatter', data: pts(obs, sim), backgroundColor: '#0c0c0c', borderWidth: 0,
            pointRadius: 4.4, order: 1,
          },
        ] as any,
      },
      options: {
        responsive: false,
        animation: false,
        devicePixelRatio: 1,
        layout: { padding: { top: a.top, right: width - a.right, left: 0, bottom: 0 } },
        plugins: { legend: { display: false }, tooltip: { enabled: false }, frame: { len: 7, top: true, right: true, color: '#222' } } as any,
        scales: {
          x: {
            type: 'linear', min: 0, max,
            grid: { display: false }, border: { display: false },
            afterBuildTicks: (s: any) => { s.ticks = ticks.map((v: number) => ({ value: v })); },
            ticks: { font: tickFont, color: '#222', padding: 6, maxRotation: 0, autoSkip: false },
            afterFit: (s: any) => { s.height = height - a.bottom; },
          },
          y: {
            type: 'linear', min: 0, max,
            grid: { display: false }, border: { display: false },
            afterBuildTicks: (s: any) => { s.ticks = ticks.map((v: number) => ({ value: v })); },
            ticks: { font: tickFont, color: '#222', padding: 7 },
            afterFit: (s: any) => { s.width = a.left; },
          },
        } as any,
      },
      plugins: [framePlugin as any],
    });
    return () => chart.destroy();
  }, []);
  return <canvas ref={ref} width={width} height={height} style={{ position: 'absolute', left, top }} />;
}

function Txt(props: any) {
  const { x, y, size, bold = true, rot = false, anchor = 'center', color = '#000', children } = props;
  const tr = (anchor === 'center' ? 'translate(-50%,-50%)' : 'translate(0,-50%)') + (rot ? ' rotate(-90deg)' : '');
  return (
    <div
      style={{
        position: 'absolute', left: x, top: y, transform: tr, fontFamily: FONT, fontSize: size,
        fontWeight: bold ? 700 : 400, color, whiteSpace: 'nowrap', lineHeight: 1,
      }}
    >
      {children}
    </div>
  );
}
const Sub = ({ children }: any) => (
  <span style={{ fontSize: '0.62em', position: 'relative', top: '0.3em' }}>{children}</span>
);
const Sup = ({ children }: any) => (
  <span style={{ fontSize: '0.62em', position: 'relative', top: '-0.45em' }}>{children}</span>
);

function Legend({ boxLeft, boxTop, boxW, boxH, textX, simY, lineTop, obsY }: any) {
  return (
    <>
      <div
        style={{
          position: 'absolute', left: boxLeft, top: boxTop, width: boxW, height: boxH, boxSizing: 'border-box',
          background: '#bdbdbd', borderTop: '3px solid #000', borderBottom: '3px solid #000',
        }}
      />
      <Txt x={textX} y={simY} size={22} anchor="left">Q<Sub>SIM</Sub></Txt>
      <div style={{ position: 'absolute', left: boxLeft + 3, top: lineTop, width: boxW - 5, height: 2, background: '#ff1a1a' }} />
      <Txt x={textX} y={obsY} size={22} anchor="left">Q<Sub>OBS</Sub></Txt>
    </>
  );
}

export default function App() {
  return (
    <div style={{ position: 'absolute', left: 0, top: 0, width: 1798, height: 1041, background: '#fff', overflow: 'hidden' }}>
      {/* Titles */}
      <Txt x={425} y={22} size={35}>S<Sub>3</Sub>-Canabois</Txt>
      <Txt x={1403} y={22} size={35}>S<Sub>6</Sub>-Nsimalen</Txt>

      {/* Panel a */}
      <SeriesChart
        left={0} top={60} width={900} height={450}
        area={{ left: 72, top: 15, right: 810, bottom: 393 }}
        simDays={simDaysA} simHi={simHiA} simLo={simLoA}
        obsDays={obsDaysA} obs={obsA} rainDays={rainDaysA} rain={rainA} qMax={16}
      />
      <Txt x={32} y={262} size={24} rot>Discharge [m<Sup>3</Sup>.s<Sup>-1</Sup>]</Txt>
      <Txt x={854} y={263} size={24} rot>Precipitation [mm]</Txt>
      <Txt x={442} y={497} size={24}>Time</Txt>
      <Txt x={441} y={531} size={30}>a)</Txt>
      <Legend boxLeft={617} boxTop={136} boxW={74} boxH={22} textX={698} simY={147} lineTop={184} obsY={188} />

      {/* Panel c */}
      <SeriesChart
        left={900} top={60} width={898} height={450}
        area={{ left: 93, top: 15, right: 832, bottom: 393 }}
        simDays={simDaysC} simHi={simHiC} simLo={simLoC}
        obsDays={obsDaysC} obs={obsC} rainDays={rainDaysC} rain={rainC} qMax={22}
      />
      <Txt x={953} y={262} size={24} rot>Discharge [m<Sup>3</Sup>.s<Sup>-1</Sup>]</Txt>
      <Txt x={1775} y={262} size={24} rot>Precipitation [mm]</Txt>
      <Txt x={1362} y={497} size={24}>Time</Txt>
      <Txt x={1370} y={531} size={30}>c)</Txt>
      <Legend boxLeft={1557} boxTop={127} boxW={75} boxH={23} textX={1639} simY={140} lineTop={176} obsY={180} />

      {/* Panel b */}
      <ScatterChart
        left={180} top={540} width={480} height={440}
        area={{ left: 85, top: 30, right: 439, bottom: 384 }}
        obs={obsB} sim={simB} max={12} ticks={scatterTicksB} line={lineB}
      />
      <Txt x={213} y={728} size={28} bold={false} rot color="#222">Q<Sub>SIM</Sub> [m<Sup>3</Sup>.s<Sup>-1</Sup>]</Txt>
      <Txt x={440} y={981} size={28} bold={false} color="#222">Q<Sub>OBS</Sub> [m<Sup>3</Sup>.s<Sup>-1</Sup>]</Txt>
      <Txt x={443} y={1020} size={30}>b)</Txt>

      {/* Panel d */}
      <ScatterChart
        left={1100} top={540} width={480} height={440}
        area={{ left: 86, top: 31, right: 439, bottom: 384 }}
        obs={obsD} sim={simD} max={22} ticks={scatterTicksD} line={lineD}
      />
      <Txt x={1134} y={728} size={28} bold={false} rot color="#222">Q<Sub>SIM</Sub> [m<Sup>3</Sup>.s<Sup>-1</Sup>]</Txt>
      <Txt x={1362} y={981} size={28} bold={false} color="#222">Q<Sub>OBS</Sub> [m<Sup>3</Sup>.s<Sup>-1</Sup>]</Txt>
      <Txt x={1371} y={1023} size={30}>d)</Txt>
    </div>
  );
}
